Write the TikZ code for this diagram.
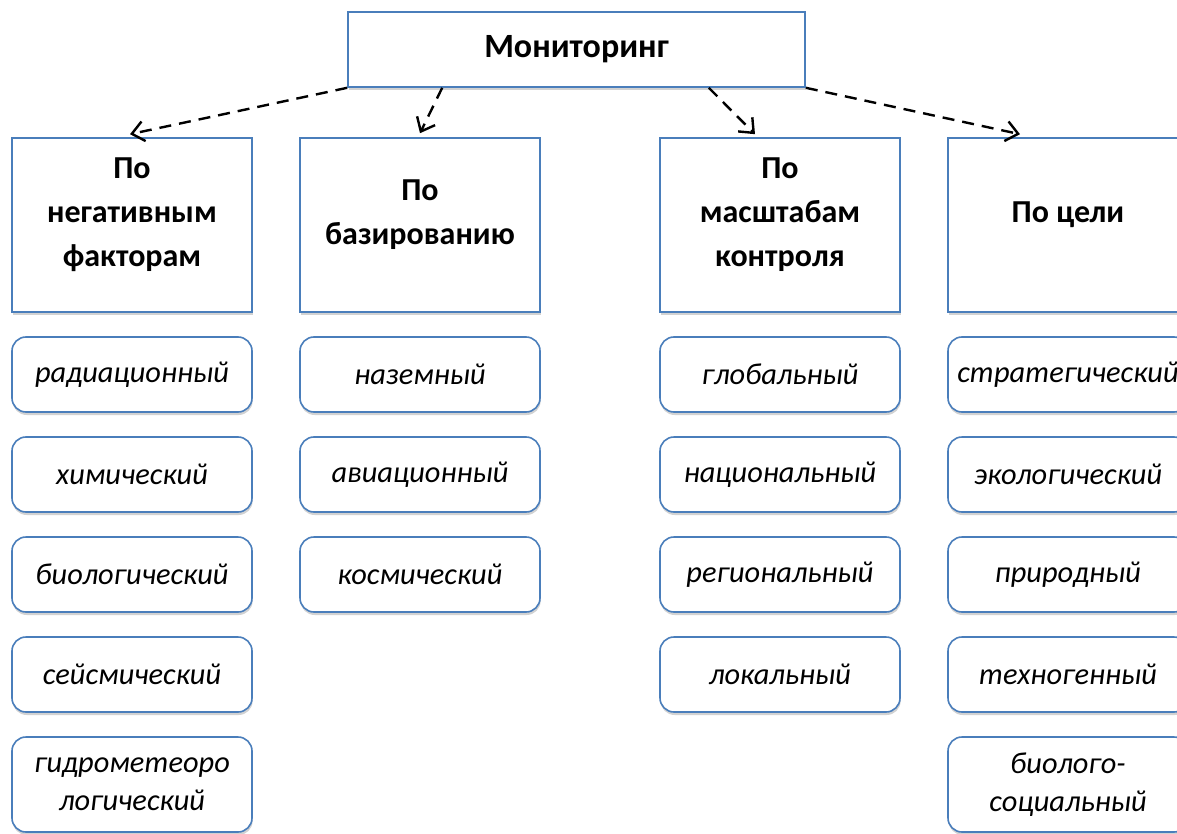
\documentclass[tikz,border=0pt]{standalone}
\usepackage{fontspec}
\setmainfont{Carlito}
\usetikzlibrary{arrows.meta,shadows}
\definecolor{ramka}{RGB}{74,126,187}

\begin{document}
\begin{tikzpicture}
        [x=0.5pt, y=-0.5pt,
         box/.style={draw=ramka, line width=0.8pt, fill=white,
            drop shadow={shadow xshift=0.3pt, shadow yshift=-1.5pt, fill=black!35}},
         zag/.style={box, minimum width=120pt, minimum height=87pt, align=center,
            text depth=13pt, font=\bfseries\fontsize{16}{22}\selectfont},
         vid/.style={box, rounded corners=7pt, minimum width=120pt, minimum height=37.5pt,
            align=center, font=\itshape\fontsize{15.2}{19}\selectfont},
         strelka/.style={line width=1.2pt, dash pattern=on 6pt off 4pt,
            -{Straight Barb[length=6pt,width=10pt]}}]
        \useasboundingbox (0,0) rectangle (1177,834);
        \clip (0,0) rectangle (1177,834);
        \node[box, minimum width=228.5pt, minimum height=37.5pt,
            font=\bfseries\fontsize{17}{20}\selectfont] (mon) at (576.5,49.5) {Мониторинг};
        % заголовки групп
        \node[zag] (neg) at (132,225) {По\\негативным\\факторам};
        \node[zag] (baz) at (420,225) {По\\базированию};
        \node[zag] (mas) at (780,225) {По\\масштабам\\контроля};
        \node[zag] (cel) at (1068,225) {По цели};
        % виды мониторинга
        \foreach \t [count=\i] in {радиационный, химический, биологический, сейсмический}
            \node[vid] (neg\i) at (132, 274.5+100*\i) {\t};
        \node[vid, minimum height=47.5pt] (neg5) at (132,784.5) {гидрометеоро\\логический};
        \foreach \t [count=\i] in {наземный, авиационный, космический}
            \node[vid] (baz\i) at (420, 274.5+100*\i) {\t};
        \foreach \t [count=\i] in {глобальный, национальный, региональный, локальный}
            \node[vid] (mas\i) at (780, 274.5+100*\i) {\t};
        \foreach \t [count=\i] in {стратегический, экологический, природный, техногенный}
            \node[vid] (cel\i) at (1068, 274.5+100*\i) {\t};
        \node[vid, minimum height=47.5pt] (cel5) at (1068,784.5) {биолого-\\социальный};
        % стрелки
        \draw[strelka] (mon.south west) -- ([xshift=-1pt, yshift=1.5pt]neg.north);
        \draw[strelka] ([xshift=47.5pt]mon.south west) -- ([yshift=2pt]baz.north);
        \draw[strelka] ([xshift=-48.5pt]mon.south east) -- ([xshift=-12.5pt, yshift=1.5pt]mas.north);
        \draw[strelka] (mon.south east) -- ([xshift=-24pt, yshift=1.5pt]cel.north);
    \end{tikzpicture}
\end{document}
